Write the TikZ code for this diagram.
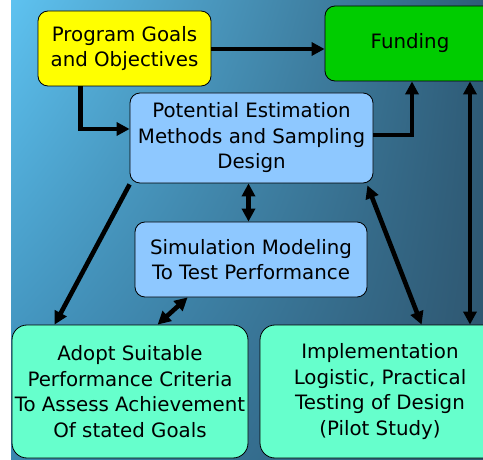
\documentclass[tikz,border=0pt]{standalone}
\usepackage{fontspec}
\setmainfont{DejaVu Sans}
\usetikzlibrary{arrows.meta,calc,shadings}
\definecolor{bgUL}{HTML}{5EC2F0}
\definecolor{bgUR}{HTML}{2E5C78}
\definecolor{bgLL}{HTML}{3A86AF}
\definecolor{bgLR}{HTML}{2F556E}
\definecolor{boxyellow}{HTML}{FFFF00}
\definecolor{boxgreen}{HTML}{00CC00}
\definecolor{boxblue}{HTML}{8EC8FF}
\definecolor{boxaqua}{HTML}{66FFCC}
\tikzset{
  box/.style={draw=black, line width=0.8pt, rounded corners=10pt, align=center,
    inner sep=0pt, font=\fontsize{19.8}{25.5}\selectfont},
  bigbox/.style={box, rounded corners=15pt},
  conn/.style={line width=4.6pt, -{Triangle[length=13pt,width=13pt]}},
  dconn/.style={line width=4.6pt, {Triangle[length=13pt,width=13pt]}-{Triangle[length=13pt,width=13pt]}},
}
\begin{document}
\begin{tikzpicture}[x=1pt,y=-1pt]
\useasboundingbox (0,0) rectangle (483,460);
\fill[white] (0,0) rectangle (483,460);
\clip (0,0) rectangle (483,460);
\shade[upper left=bgUL, upper right=bgUR, lower left=bgLL, lower right=bgLR] (11,0) rectangle (483,459);

\node[box, fill=boxyellow, minimum width=173pt, minimum height=75pt] (goals) at (124.5,48.5) {Program Goals\\and Objectives};
\node[box, fill=boxgreen, minimum width=170pt, minimum height=75pt] (fund) at (410,43.5) {Funding};
\node[box, fill=boxblue, minimum width=243pt, minimum height=90pt] (est) at (251.5,138) {Potential Estimation\\Methods and Sampling\\Design};
\node[box, fill=boxblue, minimum width=232pt, minimum height=75pt] (sim) at (251,259.5) {Simulation Modeling\\To Test Performance};
\node[bigbox, fill=boxaqua, minimum width=236pt, minimum height=133pt] (adopt) at (130,391.5) {Adopt Suitable\\Performance Criteria\\To Assess Achievement\\Of stated Goals};
\node[bigbox, fill=boxaqua, minimum width=240pt, minimum height=133pt] (impl) at (380,391.5) {Implementation\\Logistic, Practical\\Testing of Design\\(Pilot Study)};

\coordinate (g1) at ([yshift=-0.5pt]goals.east);
\draw[conn] (g1) -- (g1 -| fund.west);
\coordinate (g2) at ([xshift=43pt]goals.south west);
\coordinate (e1) at ([yshift=9pt]est.west);
\draw[conn] (g2) |- (e1);
\coordinate (e2) at ([yshift=3pt]est.east);
\coordinate (f1) at ([xshift=2pt]fund.south);
\draw[conn] (e2) -| (f1);
\coordinate (f2) at ([xshift=60pt]fund.south);
\draw[dconn] (f2) -- (f2 |- impl.north);
\coordinate (e3) at ([xshift=-3pt]est.south);
\draw[dconn] (e3) -- (e3 |- sim.north);
\coordinate (e4) at ([yshift=-1pt]est.south west);
\coordinate (a1) at ([xshift=43pt]adopt.north west);
\draw[conn] (e4) -- (a1);
\coordinate (s1) at ([xshift=53pt]sim.south west);
\coordinate (a2) at ([xshift=146pt]adopt.north west);
\draw[dconn] (s1) -- (a2);
\coordinate (e5) at ([xshift=-6pt,yshift=-2pt]est.south east);
\coordinate (i1) at ([xshift=162pt]impl.north west);
\draw[dconn] (e5) -- (i1);
\end{tikzpicture}
\end{document}
